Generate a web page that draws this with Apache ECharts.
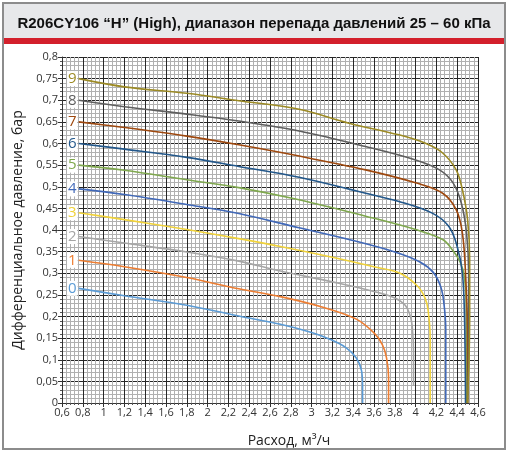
<!DOCTYPE html>
<html>
<head>
<meta charset="utf-8">
<script src="https://cdn.jsdelivr.net/npm/echarts@6/dist/echarts.min.js"></script>
<style>
  html, body { margin: 0; padding: 0; background: #fff; }
  #chart { width: 508px; height: 453px; }
</style>
</head>
<body>
<div id="chart"></div>
<script>
// расход, м3/ч  и  перепад давления, бар — по кривым 0..9
var flow0 = [0.76, 1.2, 1.8, 2.3, 2.7, 3.0, 3.18, 3.33, 3.43, 3.48, 3.49, 3.49];
var dp0   = [0.265, 0.248, 0.226, 0.201, 0.182, 0.163, 0.147, 0.128, 0.104, 0.075, 0.04, 0];
var flow1 = [0.76, 1.2, 1.8, 2.3, 2.7, 3.1, 3.43, 3.6, 3.68, 3.72, 3.74, 3.74];
var dp1   = [0.33, 0.315, 0.29, 0.264, 0.246, 0.222, 0.194, 0.162, 0.135, 0.105, 0.06, 0];
var flow2 = [0.76, 1.2, 1.8, 2.3, 2.7, 3.2, 3.6, 3.8, 3.9, 3.95, 3.97, 3.98, 3.98];
var dp2   = [0.385, 0.37, 0.349, 0.328, 0.305, 0.28, 0.258, 0.243, 0.226, 0.2, 0.17, 0.12, 0.04];
var flow3 = [0.76, 1.2, 1.8, 2.3, 2.7, 3.2, 3.6, 3.85, 4.02, 4.09, 4.12, 4.14, 4.14];
var dp3   = [0.44, 0.424, 0.401, 0.38, 0.362, 0.337, 0.315, 0.3, 0.27, 0.243, 0.215, 0.15, 0];
var flow4 = [0.76, 1.2, 1.8, 2.3, 2.88, 3.36, 3.83, 4.05, 4.17, 4.24, 4.27, 4.29, 4.29];
var dp4   = [0.495, 0.482, 0.459, 0.438, 0.405, 0.378, 0.347, 0.325, 0.302, 0.27, 0.235, 0.17, 0];
var flow5 = [0.76, 1.2, 1.8, 2.3, 2.88, 3.52, 4.0, 4.26, 4.36, 4.43, 4.47, 4.49, 4.49];
var dp5   = [0.55, 0.538, 0.516, 0.498, 0.47, 0.432, 0.401, 0.378, 0.352, 0.325, 0.29, 0.2, 0];
var flow6 = [0.76, 1.2, 1.8, 2.3, 2.88, 3.52, 3.84, 4.16, 4.32, 4.4, 4.45, 4.47, 4.48];
var dp6   = [0.6, 0.587, 0.568, 0.547, 0.522, 0.485, 0.466, 0.439, 0.408, 0.362, 0.3, 0.2, 0];
var flow7 = [0.76, 1.2, 1.8, 2.3, 2.88, 3.52, 4.0, 4.26, 4.39, 4.45, 4.48, 4.5, 4.5];
var dp7   = [0.65, 0.637, 0.617, 0.597, 0.571, 0.539, 0.509, 0.485, 0.447, 0.393, 0.3, 0.15, 0];
var flow8 = [0.76, 1.2, 1.8, 2.3, 2.88, 3.52, 4.0, 4.23, 4.36, 4.44, 4.49, 4.51, 4.51, 4.5];
var dp8   = [0.7, 0.685, 0.668, 0.652, 0.629, 0.593, 0.562, 0.539, 0.509, 0.462, 0.393, 0.3, 0.15, 0];
var flow9 = [0.76, 1.2, 1.8, 2.3, 2.88, 3.36, 3.84, 4.1, 4.26, 4.39, 4.45, 4.5, 4.52, 4.52, 4.5];
var dp9   = [0.75, 0.731, 0.716, 0.699, 0.679, 0.647, 0.62, 0.6, 0.578, 0.539, 0.493, 0.424, 0.332, 0.2, 0];

var curveNames = ['0', '1', '2', '3', '4', '5', '6', '7', '8', '9'];
var curveColors = ['#5b9bd5', '#ed7d31', '#a5a5a5', '#f0d23a', '#4068b8',
                   '#7fa84e', '#22578a', '#9e480e', '#5e5e5e', '#9c8a24'];
var flows = [flow0, flow1, flow2, flow3, flow4, flow5, flow6, flow7, flow8, flow9];
var dps = [dp0, dp1, dp2, dp3, dp4, dp5, dp6, dp7, dp8, dp9];

function comma(v) {
    return String(+(+v).toFixed(2)).replace('.', ',');
}

var chart = echarts.init(document.getElementById('chart'));

var series = curveNames.map(function (name, k) {
    var data = flows[k].map(function (x, i) {
        var item = { value: [x, dps[k][i]] };
        if (i === 0) {
            // номер кривой у её начала
            item.label = {
                show: true,
                position: 'left',
                distance: 1,
                formatter: name,
                color: curveColors[k],
                fontSize: 15,
                fontFamily: 'Open Sans',
                backgroundColor: '#fff',
                padding: [0, 1, 0, 1],
                lineHeight: 15
            };
        }
        return item;
    });
    return {
        name: name,
        type: 'line',
        data: data,
        smooth: 0.35,
        showSymbol: true,
        showAllSymbol: true,
        symbol: 'circle',
        symbolSize: 0,
        lineStyle: { color: curveColors[k], width: 1.6 },
        itemStyle: { color: curveColors[k] },
        z: 3
    };
});

var option = {
    animation: false,
    backgroundColor: '#fff',
    title: {
        text: 'R206CY106 \u201cH\u201d (High), диапазон перепада давлений 25 \u2013 60 кПа',
        left: 'center',
        top: 11,
        textStyle: { fontFamily: 'Liberation Sans', fontSize: 15, fontWeight: 'bold', color: '#111' }
    },
    graphic: [
        { type: 'rect', shape: { x: 3, y: 3, width: 502, height: 36 }, style: { fill: '#e7e8ea' }, z: -10 },
        { type: 'rect', shape: { x: 3, y: 38, width: 502, height: 6 }, style: { fill: '#d3202c' }, z: -10 },
        { type: 'rect', shape: { x: 3, y: 3, width: 502, height: 446 },
          style: { fill: 'none', stroke: '#8c8c8c', lineWidth: 2 }, z: 10 }
    ],
    grid: { left: 62, right: 30, top: 57, bottom: 49 },
    xAxis: {
        type: 'value',
        min: 0.6,
        max: 4.6,
        interval: 0.2,
        name: 'Расход, м³/ч',
        nameLocation: 'middle',
        nameGap: 31,
        nameTextStyle: { fontFamily: 'Open Sans', fontSize: 14, color: '#222', padding: [0, 0, 0, 38] },
        axisLine: { show: true, lineStyle: { color: '#333' } },
        axisTick: { show: true, length: 4, lineStyle: { color: '#333' } },
        minorTick: { show: true, splitNumber: 5, length: 2, lineStyle: { color: '#555' } },
        axisLabel: { formatter: comma, fontFamily: 'Open Sans', fontSize: 11, color: '#333', margin: 4 },
        splitLine: { show: true, lineStyle: { color: '#262626', width: 1 } },
        minorSplitLine: { show: true, lineStyle: { color: '#b0b0b0', width: 1 } }
    },
    yAxis: {
        type: 'value',
        min: 0,
        max: 0.8,
        interval: 0.05,
        name: 'Дифференциальное давление, бар',
        nameLocation: 'middle',
        nameGap: 30,
        nameRotate: 90,
        nameTextStyle: { fontFamily: 'Open Sans', fontSize: 14, color: '#222' },
        axisLine: { show: true, lineStyle: { color: '#333' } },
        axisTick: { show: true, length: 4, lineStyle: { color: '#333' } },
        minorTick: { show: true, splitNumber: 5, length: 2, lineStyle: { color: '#555' } },
        axisLabel: { formatter: comma, fontFamily: 'Open Sans', fontSize: 11, color: '#333', margin: 4 },
        splitLine: { show: true, lineStyle: { color: '#262626', width: 1 } },
        minorSplitLine: { show: true, lineStyle: { color: '#b0b0b0', width: 1 } }
    },
    series: series
};

option && chart.setOption(option);
window.onresize = function () {
    chart.resize();
};
</script>
</body>
</html>
